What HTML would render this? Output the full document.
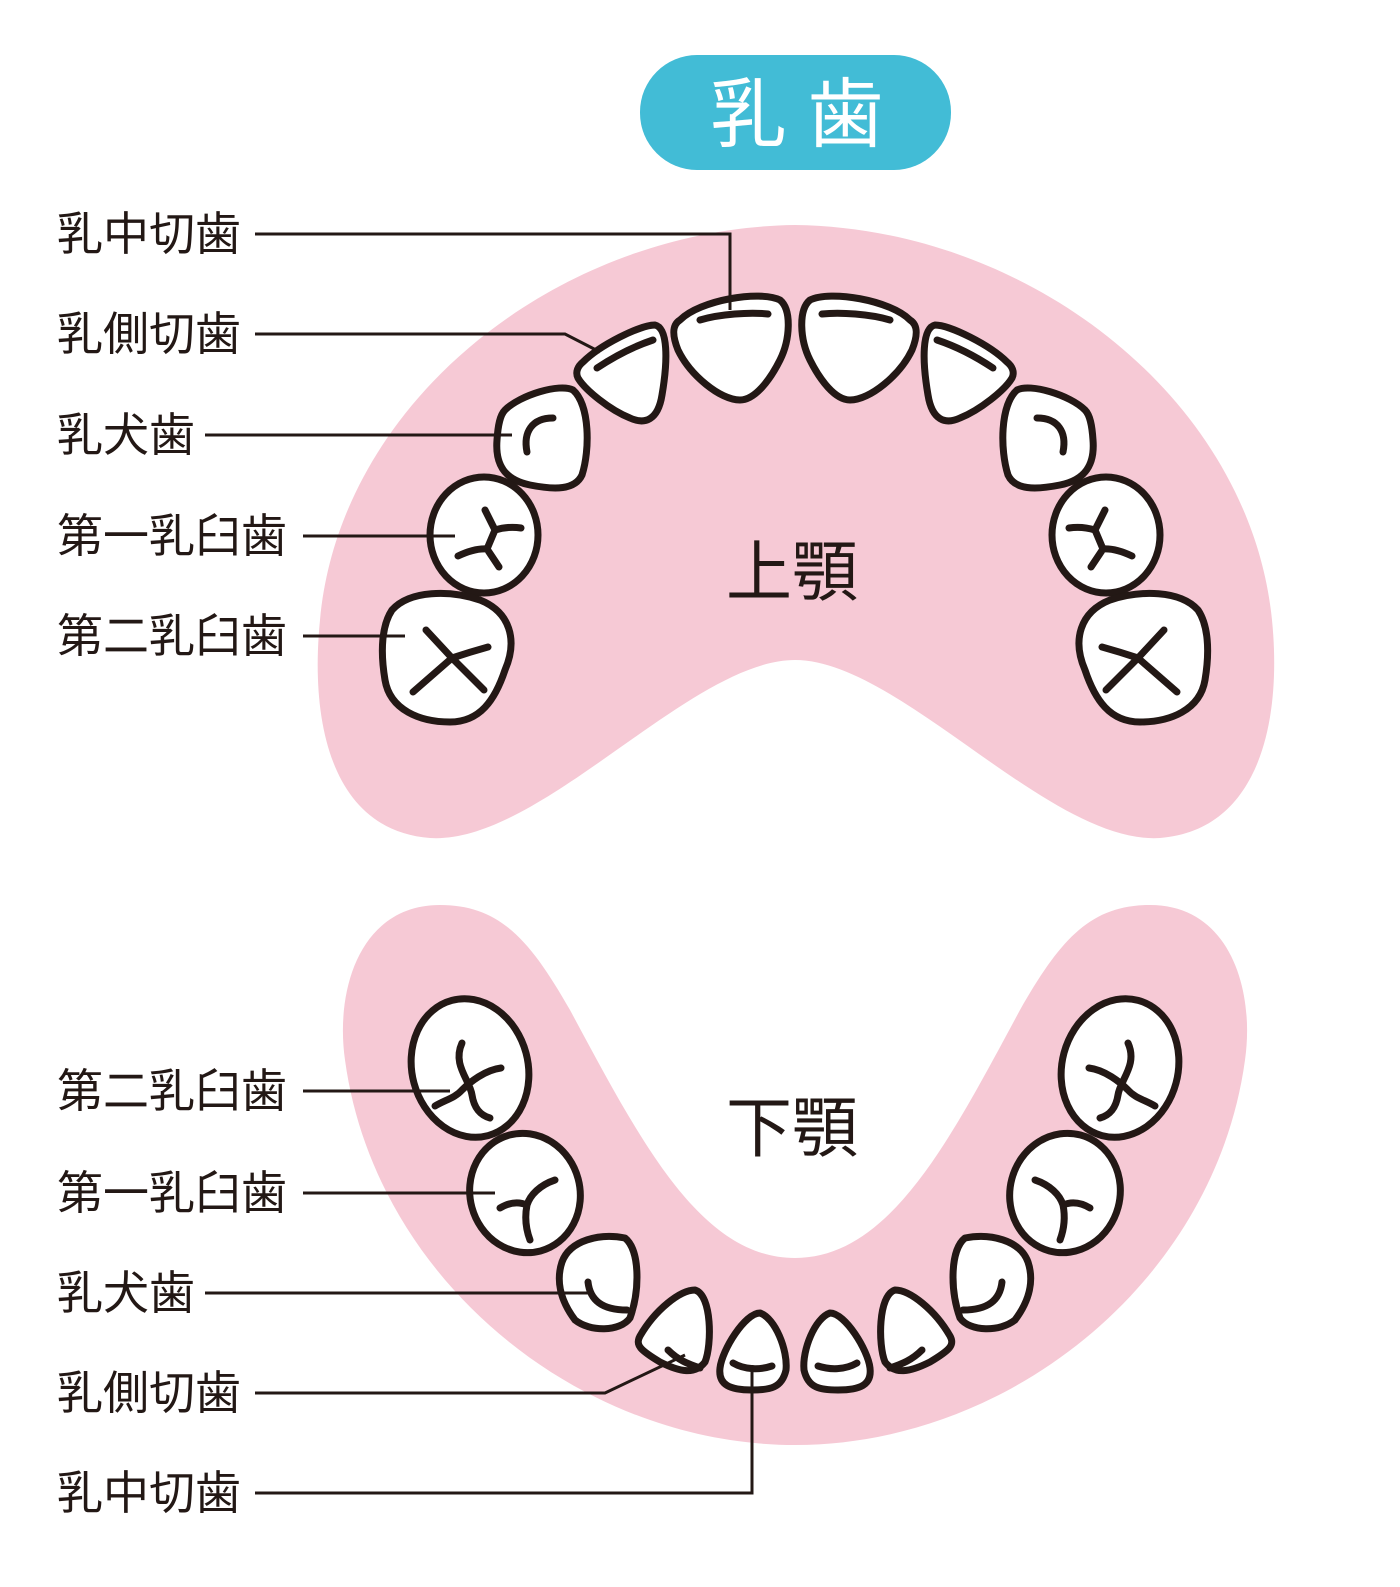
<!DOCTYPE html>
<html><head><meta charset="utf-8"><style>
html,body{margin:0;padding:0;background:#fff;}
svg{display:block;}
text{font-family:"Liberation Sans","Noto Sans CJK JP",sans-serif;fill:#231815;}
</style></head><body>
<svg width="1400" height="1587" viewBox="0 0 1400 1587" xmlns="http://www.w3.org/2000/svg">
<rect x="640" y="55" width="311" height="115" rx="57" fill="#42bcd6"/>
<text x="797" y="141" font-size="76" text-anchor="middle" style="fill:#fff">乳 歯</text>

<path d="M430,838 C330,830 310,720 320,620 C340,400 560,228 795,225 C1030,228 1250,400 1272,620 C1282,720 1260,830 1160,838 C1050,845 900,660 795,660 C690,660 540,845 430,838 Z" fill="#f6c9d5"/>
<path d="M440,905 C500,905 530,940 570,1010 C640,1140 700,1258 795,1258 C890,1258 950,1140 1020,1010 C1060,940 1090,905 1150,905 C1230,905 1255,990 1245,1060 C1215,1280 1010,1445 795,1445 C580,1445 375,1280 345,1060 C335,990 360,905 440,905 Z" fill="#f6c9d5"/>

<text x="792" y="595" font-size="66" text-anchor="middle">上顎</text>
<text x="792" y="1151" font-size="66" text-anchor="middle">下顎</text>

<g id="L" fill="#fff" stroke="#231815" stroke-width="7" stroke-linecap="round" stroke-linejoin="round">
<path d="M680,320 C700,300 760,290 780,300 C792,310 790,340 780,360 C770,380 755,400 740,400 C720,400 690,375 678,350 C672,335 672,325 680,320 Z"/>
<path d="M700,320 C720,314 750,312 768,314" fill="none"/>
<path d="M583,362 C600,345 640,325 655,325 C668,328 668,360 662,395 C658,420 645,425 630,418 C610,410 585,390 578,378 C575,372 578,366 583,362 Z"/>
<path d="M597,368 C615,356 635,346 653,340" fill="none"/>
<path d="M505,410 C520,395 560,383 573,390 C590,405 590,450 582,475 C575,490 555,490 530,485 C505,480 495,465 497,440 C498,425 500,415 505,410 Z"/>
<path d="M527,452 C523,432 532,418 553,418" fill="none"/>
<ellipse cx="484" cy="535" rx="54" ry="58"/>
<path d="M485,510 L495,530 L487,549 M495,530 Q508,526 521,528 M458,556 Q475,548 487,549 L499,567" fill="none"/>
<path d="M392,610 C410,590 450,590 480,600 C510,612 518,640 505,670 C495,700 480,722 450,722 C420,722 390,710 385,680 C380,650 382,625 392,610 Z"/>
<path d="M426,630 L452,658 Q470,652 488,647 M452,658 L484,690 M452,658 L413,692" fill="none"/>

<ellipse cx="470" cy="1068" rx="58" ry="70" transform="rotate(-15 470 1068)"/>
<path d="M462,1043 C452,1065 470,1080 472,1095 C474,1108 480,1115 490,1118 M501,1068 C485,1070 470,1082 462,1090 C455,1098 445,1100 435,1106" fill="none"/>
<ellipse cx="525" cy="1193" rx="55" ry="60" transform="rotate(-15 525 1193)"/>
<path d="M555,1180 C540,1185 530,1195 527,1205 C524,1220 527,1232 530,1240 M527,1205 C515,1200 505,1205 500,1208" fill="none"/>
<path d="M562,1262 C570,1240 600,1233 625,1238 C640,1250 640,1290 630,1318 C620,1332 590,1332 575,1320 C560,1300 556,1280 562,1262 Z"/>
<path d="M588,1282 C590,1300 602,1310 627,1310" fill="none"/>
<path d="M640,1336 C655,1310 680,1290 695,1290 C712,1295 712,1345 705,1362 C695,1375 680,1372 660,1362 C640,1350 635,1345 640,1336 Z"/>
<path d="M668,1350 C678,1360 688,1364 700,1368" fill="none"/>
<path d="M760,1313 C775,1318 788,1350 786,1370 C782,1388 770,1390 752,1390 C730,1390 718,1385 720,1368 C722,1350 745,1313 760,1313 Z"/>
<path d="M733,1363 C745,1370 760,1370 772,1366" fill="none"/>
</g>
<use href="#L" transform="translate(1590,0) scale(-1,1)"/>

<g fill="none" stroke="#231815" stroke-width="3">
<path d="M255,234 H730 V310"/>
<path d="M255,334 H565 L600,352"/>
<path d="M205,435 H512"/>
<path d="M303,536 H455"/>
<path d="M303,636 H405"/>
<path d="M303,1091 H450"/>
<path d="M303,1193 H495"/>
<path d="M205,1293 H590"/>
<path d="M255,1393 H605 L685,1355"/>
<path d="M255,1493 H752 V1365"/>
</g>

<g font-size="46">
<text x="57" y="250">乳中切歯</text>
<text x="57" y="350">乳側切歯</text>
<text x="57" y="451">乳犬歯</text>
<text x="57" y="552">第一乳臼歯</text>
<text x="57" y="652">第二乳臼歯</text>
<text x="57" y="1107">第二乳臼歯</text>
<text x="57" y="1209">第一乳臼歯</text>
<text x="57" y="1309">乳犬歯</text>
<text x="57" y="1409">乳側切歯</text>
<text x="57" y="1509">乳中切歯</text>
</g>
</svg>
</body></html>
